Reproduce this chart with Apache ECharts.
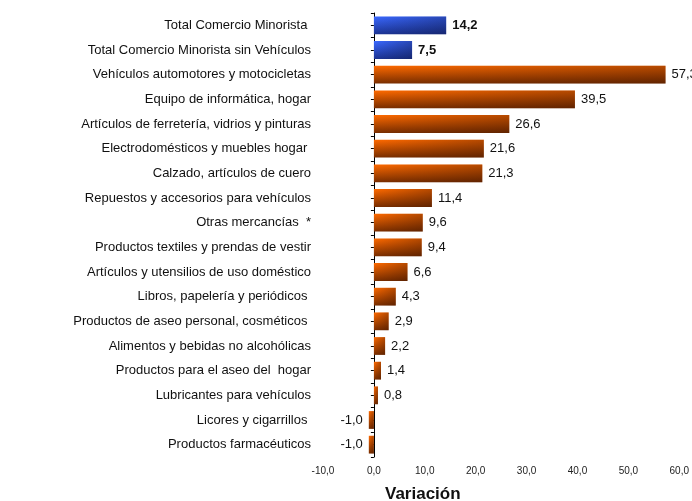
<!DOCTYPE html>
<html>
<head>
<meta charset="utf-8">
<script src="https://cdn.jsdelivr.net/npm/echarts@6/dist/echarts.min.js"></script>
<style>
  html, body { margin: 0; padding: 0; background: #fff; }
  #chart { width: 692px; height: 501px; }
</style>
</head>
<body>
<div id="chart"></div>
<script>
// categorías (de arriba hacia abajo)
const categorias = [
  'Total Comercio Minorista ',
  'Total Comercio Minorista sin Vehículos',
  'Vehículos automotores y motocicletas',
  'Equipo de informática, hogar',
  'Artículos de ferretería, vidrios y pinturas',
  'Electrodomésticos y muebles hogar ',
  'Calzado, artículos de cuero',
  'Repuestos y accesorios para vehículos',
  'Otras mercancías  *',
  'Productos textiles y prendas de vestir',
  'Artículos y utensilios de uso doméstico',
  'Libros, papelería y periódicos ',
  'Productos de aseo personal, cosméticos ',
  'Alimentos y bebidas no alcohólicas',
  'Productos para el aseo del  hogar',
  'Lubricantes para vehículos',
  'Licores y cigarrillos ',
  'Productos farmacéuticos'
];
const variacion = [14.2, 7.5, 57.3, 39.5, 26.6, 21.6, 21.3, 11.4, 9.6, 9.4, 6.6, 4.3, 2.9, 2.2, 1.4, 0.8, -1.0, -1.0];
// las dos primeras son totales (azul)
const totales = [true, true, false, false, false, false, false, false, false, false, false, false, false, false, false, false, false, false];
const ticksX = [-10, 0, 10, 20, 30, 40, 50, 60];

const fmt = v => v.toFixed(1).replace('.', ',');

// medias categorías: sirven para poner marcas en bordes y centros del eje cero
const mediasCategorias = categorias.flatMap(c => [c + ' a', c + ' b']);

// degradado vertical
const azul = new echarts.graphic.LinearGradient(0, 0, 0, 1, [
  { offset: 0, color: '#3a68ff' },
  { offset: 1, color: '#1c3494' }
]);
const naranja = new echarts.graphic.LinearGradient(0, 0, 0, 1, [
  { offset: 0, color: '#ff6a00' },
  { offset: 1, color: '#7a2e00' }
]);
// sombra horizontal encima (oscurece hacia la derecha)
const sombraAzul = new echarts.graphic.LinearGradient(0, 0, 1, 0, [
  { offset: 0, color: 'rgba(10,15,50,0)' },
  { offset: 1, color: 'rgba(10,15,50,0.35)' }
]);
const sombraNaranja = new echarts.graphic.LinearGradient(0, 0, 1, 0, [
  { offset: 0, color: 'rgba(50,15,0,0)' },
  { offset: 1, color: 'rgba(50,15,0,0.35)' }
]);

const chart = echarts.init(document.getElementById('chart'));

chart.setOption({
  animation: false,
  textStyle: { fontFamily: 'Liberation Sans, Arial, sans-serif' },
  title: {
    text: 'Variación',
    left: 380,
    top: 481,
    textStyle: { fontSize: 17, fontWeight: 'bold', color: '#111' }
  },
  grid: { left: 323, right: 9, top: 13, bottom: 44 },
  xAxis: {
    type: 'value',
    min: ticksX[0],
    max: ticksX[ticksX.length - 1],
    interval: 10,
    axisLine: { show: false },
    axisTick: { show: false },
    splitLine: { show: false },
    axisLabel: {
      margin: 9,
      fontSize: 10,
      color: '#222',
      formatter: v => fmt(v)
    }
  },
  yAxis: [
    {
      // etiquetas a la izquierda
      type: 'category',
      position: 'left',
      inverse: true,
      data: categorias,
      axisLine: { show: false, onZero: false },
      axisTick: { show: false },
      axisLabel: { margin: 12, fontSize: 13, color: '#111' }
    },
    {
      // línea del cero con marcas en bordes y centros
      type: 'category',
      position: 'left',
      inverse: true,
      data: mediasCategorias,
      axisLine: { show: true, onZero: true, lineStyle: { color: '#000', width: 1 } },
      axisTick: { show: true, interval: 0, length: 3, lineStyle: { color: '#000' } },
      axisLabel: { show: false }
    }
  ],
  series: [
    {
      type: 'bar',
      yAxisIndex: 0,
      barCategoryGap: '28%',
      data: variacion.map((v, i) => ({
        value: v,
        itemStyle: { color: totales[i] ? azul : naranja }
      }))
    },
    {
      // capa de sombreado sobre las mismas barras, con las etiquetas
      type: 'bar',
      yAxisIndex: 0,
      barGap: '-100%',
      barCategoryGap: '28%',
      data: variacion.map((v, i) => ({
        value: v,
        itemStyle: { color: totales[i] ? sombraAzul : sombraNaranja },
        label: {
          show: true,
          position: v < 0 ? 'left' : 'right',
          distance: 6,
          fontSize: 13,
          color: '#111',
          fontWeight: totales[i] ? 'bold' : 'normal',
          formatter: p => fmt(p.value)
        }
      }))
    }
  ]
});
</script>
</body>
</html>
